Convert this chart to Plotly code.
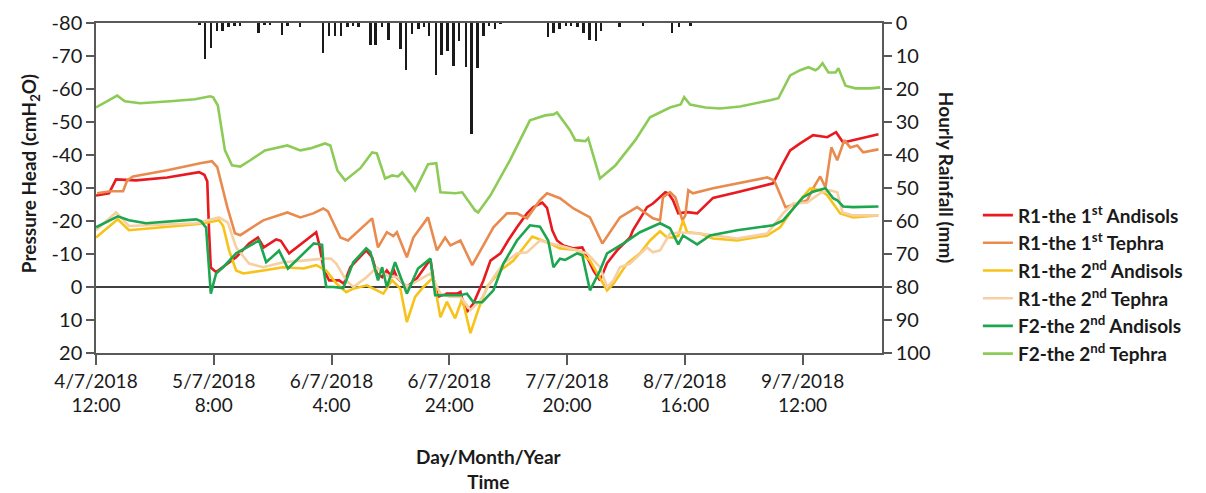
import plotly.graph_objects as go

# hours after 4/7/2018 12:00
tick_hours = [0, 20, 40, 60, 80, 100, 120]
tick_labels = ["4/7/2018<br>12:00", "5/7/2018<br>8:00", "6/7/2018<br>4:00", "6/7/2018<br>24:00",
               "7/7/2018<br>20:00", "8/7/2018<br>16:00", "9/7/2018<br>12:00"]

left_ticks = [-80, -70, -60, -50, -40, -30, -20, -10, 0, 10, 20]
right_ticks = [0, 10, 20, 30, 40, 50, 60, 70, 80, 90, 100]

# Hourly rainfall (mm)
rain_h = [17.6, 18.5, 19.5, 20.5, 21.5, 22.5, 23.5, 24.5, 27.6, 28.6, 29.6, 31.6, 32.5, 34.7,
          38.6, 39.6, 40.6, 41.6, 42.7, 43.7, 44.6, 46.6, 47.5, 48.6, 49.7, 51.7, 52.7, 53.7,
          54.8, 55.7, 56.6, 57.8, 58.7, 59.7, 60.7, 61.7, 62.8, 63.8, 64.8, 65.8, 66.8, 67.8,
          68.7, 76.8, 77.7, 78.7, 79.8, 80.7, 81.8, 82.8, 83.8, 84.9, 85.8, 88.9, 92.9, 97.8,
          99.0, 101.0]
rain_mm = [0.5, 10.9, 7.6, 2.3, 2.3, 1.3, 0.8, 0.8, 3.0, 0.6, 0.6, 3.6, 0.8, 1.3,
           9.0, 3.8, 4.0, 4.0, 1.3, 0.8, 1.3, 6.8, 6.8, 1.3, 5.0, 7.8, 14.1, 3.3,
           1.8, 1.3, 4.0, 15.9, 9.6, 8.6, 13.1, 5.6, 13.4, 33.6, 13.7, 4.0, 0.8, 1.8,
           0.3, 4.3, 3.1, 1.8, 0.8, 0.8, 1.1, 3.1, 5.3, 5.5, 2.3, 1.1, 0.8, 3.1,
           1.1, 0.8]

r1a1_h = [0, 2.2, 3.4, 5.4, 6.8, 12.1, 17.5, 18.4, 18.9, 19.2, 19.5, 20.4, 21.6, 23.8, 26, 27.5,
          28.5, 30.6, 31.4, 32.8, 37.4, 37.9, 38.7, 39.6, 41.3, 42.1, 43.2, 45.9, 46.9, 47.7,
          48.6, 49.4, 50.3, 50.5, 51.1, 52.8, 54.5, 56.8, 57.3, 58.1, 59.6, 61.3, 61.9, 62.4,
          63, 64.1, 65.8, 67, 68.7, 70, 71.5, 73.2, 74.3, 75.8, 76.6, 77.5, 78.3, 79.4, 81.1,
          82.6, 83.4, 84.5, 85.6, 86.8, 88.5, 90.7, 91.2, 93.6, 94.6, 96.7, 97.2, 98, 98.9,
          100.4, 102.1, 104.8, 108.9, 115, 116.7, 117.9, 119.6, 121.8, 124.2, 125.7, 126.9,
          128.6, 132.9]
r1a1_v = [-27.7, -28.4, -32.6, -32.3, -32.3, -33.2, -34.8, -34, -32, -17, -5.9, -4.5, -6, -9,
          -13.2, -15, -12, -14.4, -14, -10.2, -16.6, -13, -5.1, -2, -2, -1, -6, -11.1, -9, -4.1,
          -3, -5, -2.9, -5.6, -2.9, 0, -2.6, -8.4, -2.6, 3, 2, 2, 1.5, 5, 7.6, 5, -2, -8, -10.2,
          -14.1, -18.1, -22.3, -24.2, -25.6, -24, -17.2, -14.1, -12.6, -11.7, -12, -9, -5, -2,
          -7.2, -11.1, -15, -17.2, -24.2, -25.3, -28.7, -28.4, -26.3, -22.3, -22.7, -22.3, -27,
          -28.7, -31.4, -37.5, -41.4, -43.5, -46, -45.4, -46.9, -43.8, -44.5, -46.3]

r1t1_h = [0.2, 2.4, 4.6, 5.3, 6.3, 12.1, 17.7, 19.7, 20.6, 22.3, 23.6, 24.5, 28.4, 32.5, 34.7,
          36.9, 38.6, 39.4, 41.5, 42.8, 46.9, 47.9, 49.4, 50.5, 51.1, 52.8, 53.9, 56.4, 57.9,
          59.3, 60.2, 61.9, 63.9, 65.3, 67.5, 69.8, 71.5, 73.2, 75.4, 76.6, 78.8, 81.1, 83.9,
          86, 87.9, 89, 91.9, 94.6, 95.8, 96.3, 97.5, 98.4, 99.6, 100.1, 100.6, 101.4, 104.8,
          108.9, 114, 115.2, 117.1, 119.1, 120.8, 121.8, 123, 123.9, 124.9, 125.9, 127.1,
          128.1, 129.3, 130.3, 132.9]
r1t1_v = [-28.4, -29, -29, -32.3, -33.5, -35.4, -37.5, -38.1, -36.3, -24.2, -16.3, -15.7, -20.2,
          -22.6, -21.1, -22.3, -23.8, -22.9, -15, -14.1, -20.8, -12, -16.6, -15.4, -16.6, -9,
          -15, -21.1, -11.1, -15, -12.6, -14.1, -6.6, -11.1, -18.1, -22.3, -22.3, -20.8, -26.3,
          -28.4, -26.9, -23.8, -21.1, -13.2, -18.1, -21.1, -24.2, -20.8, -20.2, -27.2, -28.7,
          -27.2, -20.2, -21.7, -29.3, -28.4, -29.9, -31.4, -33.2, -32.3, -24.2, -25.3, -26.3,
          -29.9, -33.5, -30.2, -42.3, -38.4, -44.5, -42.3, -42.9, -40.8, -41.7]

r1a2_h = [0, 3.7, 5.6, 17, 19.2, 20.9, 21.6, 22.6, 23.8, 25, 28.4, 31.8, 35.2, 37.4, 39.1, 40.8,
          42.5, 43.7, 46, 48.8, 50.3, 51.7, 52.8, 54.2, 55.6, 57.3, 58.5, 59.6, 61, 62.2, 63.6,
          64.9, 66.4, 68.7, 70.9, 73.2, 74.1, 75.8, 77.1, 78.8, 81.7, 83.9, 85.6, 86.8, 87.9,
          89, 90.2, 92.4, 94.1, 95.8, 97, 98, 98.9, 99.7, 100.4, 102.6, 104.8, 108.9, 114,
          116.2, 118.4, 121.3, 123, 124.2, 126.4, 128.6, 132.9]
r1a2_v = [-15, -20.5, -17.2, -19, -19.6, -20.2, -18.5, -11.1, -5, -4.1, -5, -6, -5.6, -6.6, -5,
          -1.1, 1.6, 0.5, -0.5, 2, -2, 0.5, 10.6, 3, 0, -2.9, 9.2, 4.5, 9.5, 3.5, 14, 7, 0, -5,
          -8, -13.2, -15.3, -14.1, -13.2, -11.7, -11.2, -8, -2.9, 1, -1, -4.1, -7.1, -10.2,
          -14.1, -16.9, -15, -15, -15.5, -20.2, -16.6, -16.2, -14.7, -14.1, -15.6, -18.1,
          -23.8, -29.9, -29.3, -27.8, -22.3, -21.1, -21.7]

r1t2_h = [0, 3.4, 5.6, 17, 20.9, 22.4, 23.8, 26, 28.4, 31.8, 35.2, 38.6, 39.9, 40.8, 42.5, 43.7,
          45.9, 47.7, 49.4, 51.1, 52.8, 54.7, 56.8, 58.5, 60.2, 61.9, 63.6, 65.3, 67.5, 69.2,
          71.5, 73.2, 75.4, 77.7, 80, 83.4, 85.6, 86.8, 87.9, 89, 90.7, 93.6, 94.6, 95.8, 97.5,
          99.2, 102.6, 108.9, 114, 116.7, 118.4, 120.8, 123, 124.7, 125.9, 126.8, 128.6, 132.9]
r1t2_v = [-17.2, -22.6, -18.5, -19.3, -21.1, -19.5, -12, -7.1, -6, -7.5, -8, -8.6, -8.6, -7.1,
          -2, 0, -2.9, -6, -3.5, -3, 0, -2, -4.1, 2, 3, 3, 7, 4, -2.9, -7.1, -10.2, -10.5, -14.1,
          -13, -12, -10.2, -6, 0, -2, -6, -7.1, -12, -10.5, -11.1, -16.2, -16.5, -16.2, -14.7,
          -16.2, -22.3, -25.3, -25.6, -28.4, -29.3, -28.7, -22.6, -21.7, -21.7]

f2a2_h = [0, 3.7, 5.6, 8.5, 17, 17.8, 18.7, 19.5, 20.4, 21.6, 23.8, 27.7, 28.9, 30.6, 31.1, 32.6,
          37, 38.4, 38.7, 39.1, 40.3, 42, 43, 43.7, 45.9, 46.6, 47.9, 48.6, 49.4, 50.8, 52.8,
          54.7, 56.8, 57.6, 61.9, 63, 64.1, 65.6, 67.5, 69.2, 71.5, 73.7, 75.4, 76.8, 77.7,
          78.8, 79.7, 81.7, 82.6, 83.9, 85.6, 86.8, 89.6, 92.4, 95.8, 97.5, 98.9, 99.7, 102.1,
          104.3, 108.9, 115, 116.7, 120.1, 121.8, 123.9, 125.2, 125.9, 126.9, 128.6, 132.9]
f2a2_v = [-18.1, -21.4, -20.2, -19.3, -20.5, -20, -18, 2, -4.1, -6, -10.2, -14.1, -7.5, -10.2,
          -11, -5.6, -13.2, -12.8, -5, 0, 0, 0.3, -4, -7.5, -11.7, -10.6, -2, -6, 0, -7.5, 2,
          -5.6, -8.6, 2.5, 2.5, 2, 4.6, 4.6, 1, -7.1, -14.1, -18.7, -18.3, -14.1, -6, -8.6,
          -8.2, -10.2, -9.6, 1, -5, -10.2, -13.2, -16.6, -19.3, -17.8, -12.9, -15.6, -12.9,
          -15.6, -17.2, -18.7, -20.2, -27.2, -28.9, -29.9, -26.9, -26.3, -24.4, -24.2, -24.4]

f2t2_h = [0, 3.6, 4.9, 7.5, 12.6, 16.8, 19.4, 19.9, 20.7, 21.9, 23.1, 24.5, 26.2, 28.7, 32.5,
          34.7, 36.4, 38.9, 39.8, 41, 42.3, 44.9, 46.9, 47.7, 49.1, 50.3, 51.3, 52, 53.4, 54.2,
          56.4, 57.8, 58.5, 61, 62.2, 63.2, 64.4, 64.9, 67, 70.3, 73.7, 76.3, 77.7, 78.3, 80.5,
          81.4, 83.1, 83.6, 85.6, 88.2, 91.6, 94.1, 97.5, 99.3, 99.9, 100.9, 103.5, 106, 109.4,
          114.5, 115.9, 117.9, 119.6, 121, 122.2, 122.7, 123.4, 124.4, 125.6, 126.1, 127.3,
          129, 131.5, 133.2]
f2t2_v = [-54.4, -58, -56.3, -55.7, -56.3, -56.9, -57.8, -57.5, -55, -41.4, -36.9, -36.5, -38.4,
          -41.4, -42.9, -41.4, -42, -43.5, -42.9, -35.3, -32.3, -36, -40.8, -40.5, -32.9, -33.8,
          -33.5, -34.7, -31.4, -29.3, -37.2, -37.5, -28.7, -28.4, -28.7, -26.3, -23.2, -22.6,
          -27.8, -38.4, -50.5, -52, -52.3, -52.9, -47.5, -44.5, -44.2, -45.1, -32.9, -36.8,
          -44.5, -51.4, -54.4, -55.3, -57.5, -55.3, -54.4, -54.1, -54.7, -56.6, -57.2, -64.1,
          -65.7, -66.6, -65.7, -66.3, -67.8, -65, -65, -66.3, -61, -60.2, -60.2, -60.5]

series = [
    ("R1-the 1<sup>st</sup> Andisols", r1a1_h, r1a1_v, "#E8191F"),
    ("R1-the 1<sup>st</sup> Tephra", r1t1_h, r1t1_v, "#E98B4E"),
    ("R1-the 2<sup>nd</sup> Andisols", r1a2_h, r1a2_v, "#F7C31A"),
    ("R1-the 2<sup>nd</sup> Tephra", r1t2_h, r1t2_v, "#F6CFA3"),
    ("F2-the 2<sup>nd</sup> Andisols", f2a2_h, f2a2_v, "#1DA650"),
    ("F2-the 2<sup>nd</sup> Tephra", f2t2_h, f2t2_v, "#8DCB57"),
]

FONT = "Lato"
TXT = "#1a1a1a"
AX = "#595959"

fig = go.Figure()
fig.add_trace(go.Bar(x=rain_h, y=rain_mm, yaxis="y2", width=0.4, marker_color="#1a1a1a",
                     marker_line_width=0, showlegend=False))
for name, h, v, c in series:
    fig.add_trace(go.Scatter(x=h, y=v, mode="lines", name=name,
                             line=dict(color=c, width=2.6)))

fig.update_layout(
    width=1206, height=493,
    margin=dict(l=96, r=324, t=23, b=140),
    paper_bgcolor="white", plot_bgcolor="white",
    font=dict(family=FONT, size=18, color=TXT),
    showlegend=True,
    legend=dict(x=1.122, y=0.475, xanchor="left", yanchor="top",
                font=dict(family=FONT, size=19, color=TXT, weight="bold"),
                tracegroupgap=0, itemwidth=30, bgcolor="rgba(0,0,0,0)"),
    xaxis=dict(range=[0, 133.5], tickvals=tick_hours, ticktext=tick_labels,
               showline=True, linecolor=AX, linewidth=1.5, mirror=True,
               ticks="outside", ticklen=10, tickcolor=AX, tickwidth=1.5,
               showgrid=False, zeroline=False, tickfont=dict(size=19), automargin=False),
    yaxis=dict(range=[20, -80], tickvals=left_ticks, ticktext=[str(t) for t in left_ticks],
               showline=True, linecolor=AX, linewidth=1.5,
               ticks="outside", ticklen=8, tickcolor=AX, tickwidth=1.5,
               showgrid=False, zeroline=True, zerolinecolor="#404040", zerolinewidth=1.5,
               tickfont=dict(size=20), automargin=False),
    yaxis2=dict(range=[100, 0], overlaying="y", side="right", tickvals=right_ticks,
                showline=True, linecolor=AX, linewidth=1.5,
                ticks="outside", ticklen=8, tickcolor=AX, tickwidth=1.5,
                showgrid=False, zeroline=False, tickfont=dict(size=20), automargin=False),
    bargap=0,
    annotations=[
        dict(text="<b>Pressure Head (cmH<sub>2</sub>O)</b>", xref="paper", yref="paper",
             x=-0.084, y=0.545, textangle=-90, showarrow=False, font=dict(size=19),
             xanchor="center", yanchor="middle"),
        dict(text="<b>Hourly Rainfall (mm)</b>", xref="paper", yref="paper",
             x=1.083, y=0.533, textangle=90, showarrow=False, font=dict(size=19),
             xanchor="center", yanchor="middle"),
        dict(text="<b>Day/Month/Year<br>Time</b>", xref="paper", yref="paper",
             x=0.5, y=-0.352, showarrow=False, font=dict(size=19),
             xanchor="center", yanchor="middle"),
    ],
)

fig.write_html("out.html", config={"displayModeBar": False},
               post_script="document.body.style.margin='0';")
